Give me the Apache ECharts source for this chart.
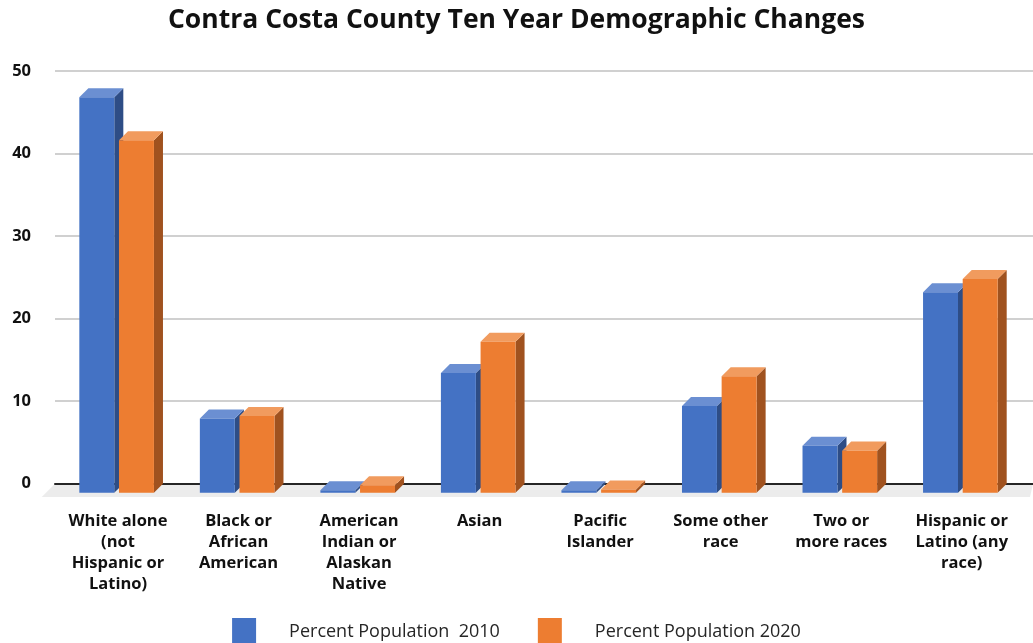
<!DOCTYPE html>
<html><head><meta charset="utf-8">
<script src="https://cdn.jsdelivr.net/npm/echarts@6/dist/echarts.min.js"></script>
<style>html,body{margin:0;padding:0;background:#fff}#c{width:1033px;height:643px}</style>
</head><body><div id="c"></div>
<script>
const categories = ["White alone\n(not\nHispanic or\nLatino)", "Black or\nAfrican\nAmerican", "American\nIndian or\nAlaskan\nNative", "Asian", "Pacific\nIslander", "Some other\nrace", "Two or\nmore races", "Hispanic or\nLatino (any\nrace)"];
const pop2010 = [47.9, 9.0, 0.3, 14.5, 0.3, 10.5, 5.7, 24.3];
const pop2020 = [42.7, 9.3, 0.9, 18.3, 0.4, 14.1, 5.1, 25.9];
const seriesNames = ["Percent Population  2010", "Percent Population 2020"];
const yTicks = [0, 10, 20, 30, 40, 50];

const FONT = "'Open Sans', sans-serif";
const palette = [
  {front: '#4472C4', top: '#6B8FD2', side: '#2E4D86'},
  {front: '#ED7D31', top: '#F19B5E', side: '#A0521F'}
];

function renderBar(params, api) {
  const ci = api.value(0), v = api.value(1);
  const base = api.coord([ci, 0]);
  const topP = api.coord([ci, v]);
  const cw = api.size([1, 0])[0];
  const bw = cw * 0.29, d = cw * 0.075;
  const off = params.seriesIndex === 0 ? -0.321 * cw : 0.008 * cw;
  const x0 = base[0] + off, x1 = x0 + bw;
  const yT = topP[1] + d, yB = base[1] + d;
  const c = palette[params.seriesIndex];
  return {
    type: 'group',
    children: [
      {type: 'polygon', shape: {points: [[x1, yT], [x1 + d, yT - d], [x1 + d, yB - d], [x1, yB]]}, style: {fill: c.side}},
      {type: 'polygon', shape: {points: [[x0, yT], [x1, yT], [x1 + d, yT - d], [x0 + d, yT - d]]}, style: {fill: c.top}},
      {type: 'rect', shape: {x: x0, y: yT, width: bw, height: yB - yT}, style: {fill: c.front}}
    ]
  };
}

const chart = echarts.init(document.getElementById('c'), null, {renderer: 'canvas'});
const option = {
  backgroundColor: '#fff',
  animation: false,
  title: {
    text: 'Contra Costa County Ten Year Demographic Changes',
    left: 'center', top: 2,
    textStyle: {fontFamily: FONT, fontWeight: 'bold', fontSize: 26.5, color: '#111'}
  },
  legend: {
    data: seriesNames.map(n => ({name: n, icon: 'rect'})),
    bottom: -8, left: 'center',
    itemWidth: 24, itemHeight: 28, itemGap: 38,
    textStyle: {fontFamily: FONT, fontSize: 18, color: '#262626', padding: [0, 0, 0, 28]}
  },
  grid: [
    {left: 55, right: 0, top: 71, bottom: 159.3},
    {left: 57.75, right: 11, top: 71, bottom: 159.3}
  ],
  xAxis: [
    {type: 'category', gridIndex: 0, data: categories, axisLine: {show: true, lineStyle: {color: '#262626', width: 2}},
     axisTick: {show: false}, axisLabel: {show: false}, z: 1},
    {type: 'category', gridIndex: 1, data: categories, axisLine: {show: false}, axisTick: {show: false},
     axisLabel: {fontFamily: FONT, fontSize: 16.5, fontWeight: 'bold', color: '#111', lineHeight: 21, margin: 27, interval: 0}}
  ],
  yAxis: [
    {type: 'value', gridIndex: 0, min: yTicks[0], max: yTicks[yTicks.length - 1], interval: 10,
     axisLine: {show: false}, axisTick: {show: false},
     axisLabel: {fontFamily: FONT, fontSize: 16.5, fontWeight: 'bold', color: '#111', margin: 24},
     splitLine: {lineStyle: {color: '#D0D0D0', width: 2}}},
    {type: 'value', gridIndex: 1, min: 0, max: 50, interval: 10, show: false, splitLine: {show: false}}
  ],
  series: [
    {name: seriesNames[0], type: 'custom', xAxisIndex: 1, yAxisIndex: 1, itemStyle: {color: palette[0].front},
     renderItem: renderBar, encode: {x: 0, y: 1}, z: 5, data: pop2010.map((v, i) => [i, v])},
    {name: seriesNames[1], type: 'custom', xAxisIndex: 1, yAxisIndex: 1, itemStyle: {color: palette[1].front},
     renderItem: renderBar, encode: {x: 0, y: 1}, z: 6, data: pop2020.map((v, i) => [i, v])}
  ]
};
chart.setOption(option);
// floor band beneath the axis
const p0 = chart.convertToPixel({gridIndex: 0}, [0, 0]);
const y0 = p0[1];
const cw = chart.convertToPixel({gridIndex: 1}, [1, 0])[0] - chart.convertToPixel({gridIndex: 1}, [0, 0])[0];
const dep = cw * 0.11;
chart.setOption({
  graphic: [{
    type: 'polygon', z: 0, silent: true,
    shape: {points: [[55, y0], [1033, y0], [1033 - 3, y0 + dep], [55 - dep, y0 + dep]]},
    style: {fill: '#ECECEC'}
  }]
});
</script></body></html>
